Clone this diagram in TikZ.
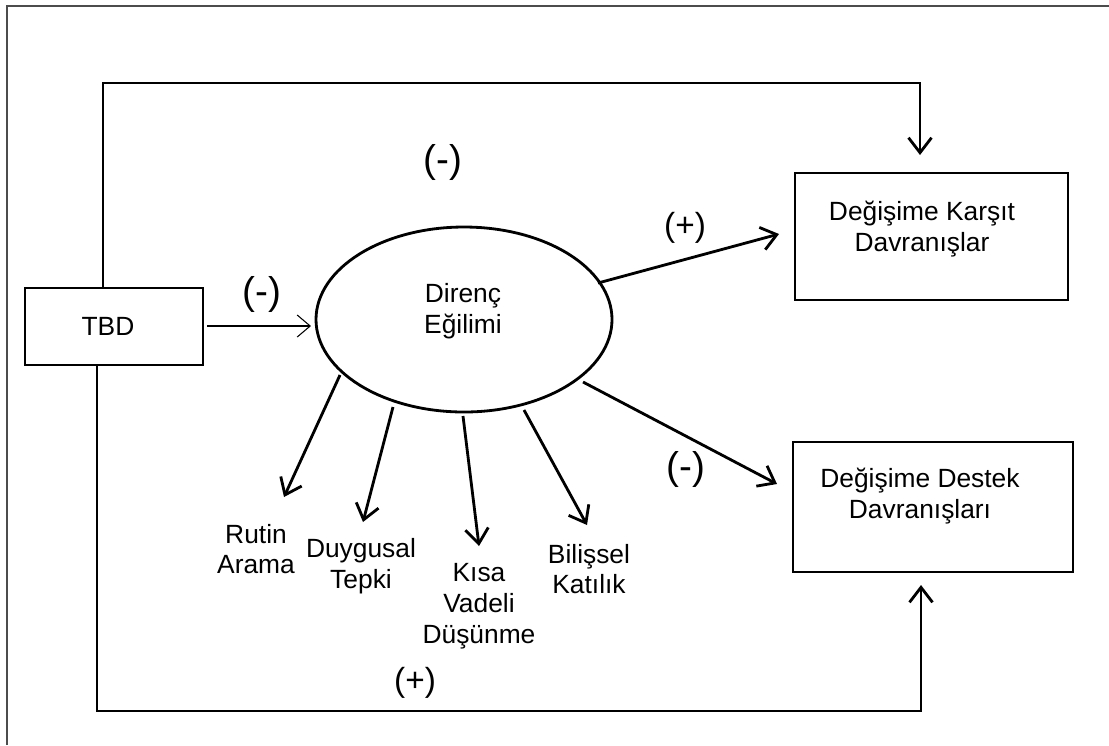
\documentclass[tikz,border=0pt]{standalone}
\usepackage{fontspec}
\setmainfont{Liberation Sans}
\usetikzlibrary{arrows.meta}

\tikzset{
  box/.style={draw, line width=1.6pt, inner sep=0pt},
  lbl/.style={align=center, inner sep=0pt, font=\fontsize{15}{17.5}\selectfont},
  sgn/.style={inner sep=0pt, font=\fontsize{22}{24}\selectfont},
  psgn/.style={inner sep=0pt, font=\fontsize{19}{21}\selectfont},
  arr/.style={line width=1.6pt, -{Straight Barb[length=3mm,width=4.6mm,line width=1.6pt]}},
  thinarr/.style={line width=0.6pt, -{Straight Barb[length=2.6mm,width=4.4mm,line width=0.6pt]}}
}

\begin{document}
\begin{tikzpicture}[x=0.2mm, y=-0.2mm]
  \useasboundingbox (0, 0) rectangle (1109, 745);
  % outer frame
  \draw[line width=1.2pt, black!70] (7, 745) -- (7, 6) -- (1109, 6);

  % boxes
  \node[box, minimum width=35.6mm, minimum height=15.4mm] (tbd) at (114, 326.5) {};
  \node[lbl] (tbdtxt) at (108, 326) {TBD};
  \node[box, minimum width=54.6mm, minimum height=25.4mm] (karsit) at (931.5, 236.5) {};
  \node[lbl] (karsittxt) at (922, 229) {Değişime Karşıt\\Davranışlar};
  \node[box, minimum width=56mm, minimum height=26mm] (destek) at (933, 507) {};
  \node[lbl] (destektxt) at (920, 496) {Değişime Destek\\Davranışları};

  % ellipse
  \draw[line width=1.6pt] (464, 319.5) ellipse (148 and 92.5);
  \node[lbl] (direnc) at (463, 311) {Direnç\\Eğilimi};

  % dimensions
  \node[lbl] (rutin) at (256, 549) {Rutin\\Arama};
  \node[lbl] (duygu) at (361, 566) {Duygusal\\Tepki};
  \node[lbl] (kisa) at (479, 606) {Kısa\\Vadeli\\Düşünme};
  \node[lbl] (bilis) at (589, 569) {Bilişsel\\Katılık};

  % signs
  \node[sgn] (s1) at (443, 162) {(-)};
  \node[sgn] (s2) at (262, 294) {(-)};
  \node[psgn] (s3) at (685, 228) {(+)};
  \node[sgn] (s4) at (686, 469) {(-)};
  \node[psgn] (s5) at (415, 683) {(+)};

  % connectors
  \coordinate (topend) at (920, 155);
  \coordinate (botend) at (921, 585);
  \draw[arr] (tbd.north -| 103, 0) |- (520, 83) -| (topend);
  \draw[arr] (tbd.south -| 97, 0) |- (520, 711) -| (botend);
  \draw[thinarr] (207, 326) -- (311, 326);
  \draw[arr] (598, 283) -- (779, 234);
  \draw[arr] (583, 382) -- (777, 484);
  \draw[arr] (340, 375) -- (284, 497);
  \draw[arr] (393, 407) -- (363, 522);
  \draw[arr] (463, 416) -- (479, 546);
  \draw[arr] (524, 410) -- (587, 525);
\end{tikzpicture}
\end{document}
